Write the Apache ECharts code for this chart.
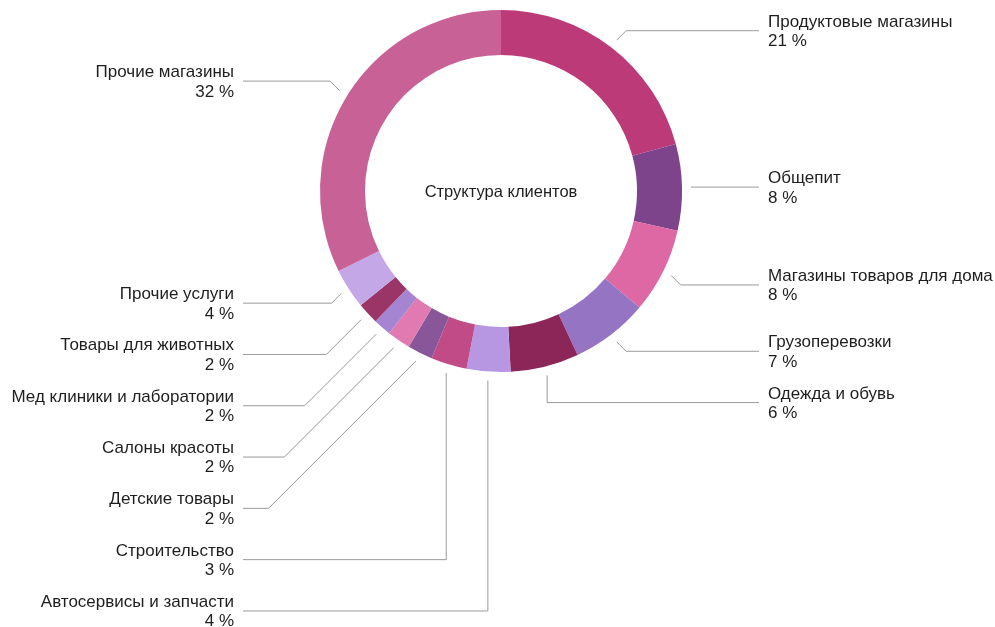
<!DOCTYPE html>
<html><head><meta charset="utf-8">
<script src="https://cdn.jsdelivr.net/npm/echarts@6/dist/echarts.min.js"></script>
<style>html,body{margin:0;padding:0;background:#fff}#c{width:995px;height:627px}</style>
</head><body><div id="c"></div>
<script>
const categories = ['Продуктовые магазины','Общепит','Магазины товаров для дома','Грузоперевозки','Одежда и обувь','Автосервисы и запчасти','Строительство','Детские товары','Салоны красоты','Мед клиники и лаборатории','Товары для животных','Прочие услуги','Прочие магазины'];
const values = [20.8, 7.7, 7.6, 6.9, 6.1, 3.9, 3.2, 2.25, 2.1, 1.6, 1.9, 3.6, 32.25];
const colors = ['#BC3A77','#7D438B','#DE68A4','#9674C4','#8C2659','#B897E2','#C04B87','#8A569A','#E07AB1','#A584D1','#9B3568','#C4A7E7','#C86196'];
const centerTitle = 'Структура клиентов';

const CX = 501, CY = 191, R_OUT = 181, R_IN = 136;
const R_TICK = 190, TICK = 9.5, GAP = 51.3;
const LINE_R = 759, LINE_L = 243, TEXT_R = 768, TEXT_L = 234, TEXT_DY = 1;
const FONT = '"Liberation Sans", Arial, Helvetica, sans-serif';

const total = values.reduce((a, b) => a + b, 0);
let cum = 0;
const lay = values.map((v, i) => {
  const mid = (cum + v / 2) / total * 2 * Math.PI; cum += v;
  const s = Math.sin(mid), c = Math.cos(mid);
  const x0 = CX + R_TICK * s, y0 = CY - R_TICK * c;
  const k = Math.round(mid / (Math.PI / 4));
  const a = k * Math.PI / 4;
  const dx = Math.round(Math.sin(a)), dy = Math.round(-Math.cos(a));
  const left = s < 0;
  const natY = y0 + dy * TICK;
  return { i, x0, y0, dx, dy, left, natY, y: natY };
});
[true, false].forEach(side => {
  const g = lay.filter(l => l.left === side).sort((a, b) => a.natY - b.natY);
  for (let j = 1; j < g.length; j++) g[j].y = Math.max(g[j].natY, g[j - 1].y + GAP);
});
function linePts(l) {
  const ex = l.left ? LINE_L : LINE_R;
  const d = Math.abs(l.y - l.y0);
  const x1 = l.dx === 0 ? l.x0 : l.x0 + l.dx * d;
  return [[l.x0, l.y0], [x1, l.y], [ex, l.y]];
}

const chart = echarts.init(document.getElementById('c'), null, { renderer: 'canvas' });
chart.setOption({
  animation: false,
  backgroundColor: '#ffffff',
  graphic: [{
    type: 'text', x: CX, y: CY + 1, silent: true,
    style: { text: centerTitle, align: 'center', verticalAlign: 'middle', fontFamily: FONT, fontSize: 16.5, fill: '#1e1e1e' }
  }],
  series: [{
    type: 'pie',
    center: [CX, CY],
    radius: [R_IN, R_OUT],
    startAngle: 90,
    clockwise: true,
    avoidLabelOverlap: false,
    silent: true,
    itemStyle: { borderWidth: 0 },
    data: categories.map((n, i) => ({ name: n, value: values[i], itemStyle: { color: colors[i] } })),
    label: {
      show: true, position: 'outside',
      formatter: p => p.name + '\n' + Math.round(p.value) + ' %',
      fontFamily: FONT, fontSize: 17, lineHeight: 19.5, color: '#1e1e1e'
    },
    labelLine: { show: true, smooth: false, lineStyle: { color: '#9a9a9a', width: 1 } },
    labelLayout: function (p) {
      const l = lay[p.dataIndex];
      return {
        x: l.left ? TEXT_L : TEXT_R,
        y: l.y + TEXT_DY,
        align: l.left ? 'right' : 'left',
        verticalAlign: 'middle',
        labelLinePoints: linePts(l)
      };
    }
  }]
});
</script>
</body></html>
